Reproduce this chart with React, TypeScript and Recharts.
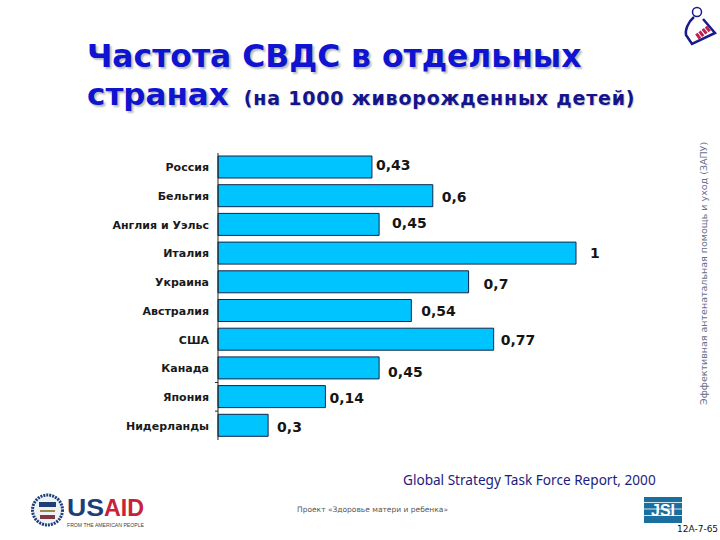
import { Bar, BarChart, Cell, LabelList, XAxis, YAxis } from "recharts";

const countries = [
	"Россия",
	"Бельгия",
	"Англия и Уэльс",
	"Италия",
	"Украина",
	"Австралия",
	"США",
	"Канада",
	"Япония",
	"Нидерланды",
];
// bar lengths as drawn: the last two are swapped against their printed labels in the source
const barValues = [0.43, 0.6, 0.45, 1, 0.7, 0.54, 0.77, 0.45, 0.3, 0.14];
const printedLabels = ["0,43", "0,6", "0,45", "1", "0,7", "0,54", "0,77", "0,45", "0,14", "0,3"];

// the labels were placed by hand in the source slide
const labelShiftX = [4, 9, 13, 14, 15, 10, 7, 9, 4, 9];
const labelShiftY = [-2, 1, -1, 0, 2, 0, 1, 4, 1, 2];
const tickedRows = [8, 9];

const data = countries.map((country, i) => ({
	country,
	value: barValues[i],
	label: printedLabels[i],
}));

const BLUE = "#0f14d0";

function CountryTick({ x, y, payload, index }: any) {
	return (
		<g>
			<text
				x={x - 1}
				y={y}
				dy={4}
				textAnchor="end"
				fontFamily="DejaVu Sans"
				fontWeight="bold"
				fontSize={11}
				fill="#1a1a1a"
			>
				{payload.value}
			</text>
			{tickedRows.includes(index) && (
				<line x1={x + 5} x2={x + 8} y1={y - 14.5} y2={y - 14.5} stroke="#222" />
			)}
		</g>
	);
}

function ValueLabel({ x, y, width, height, index, value }: any) {
	return (
		<text
			x={x + width + labelShiftX[index]}
			y={y + height / 2 + labelShiftY[index]}
			dy={5}
			fontFamily="DejaVu Sans"
			fontWeight="bold"
			fontSize={14}
			fill="#151515"
		>
			{value}
		</text>
	);
}

function MotherIcon() {
	return (
		<svg width={40} height={48} style={{ position: "absolute", left: 682, top: 2 }}>
			<circle cx={15} cy={10} r={4.5} fill="none" stroke="#1a1a8c" strokeWidth={1.5} />
			<path
				d="M12 15 C6 20 3 28 4 33 L10 42 L33 31 L21 17"
				fill="none"
				stroke="#1a1a8c"
				strokeWidth={2.5}
			/>
			<path d="M15 35 L27 26" stroke="#c02050" strokeWidth={6} strokeDasharray="3 1" />
		</svg>
	);
}

function UsaidLogo() {
	return (
		<svg width={120} height={42} style={{ position: "absolute", left: 28, top: 490 }}>
			<circle cx={19.5} cy={20} r={15} fill="#eef2f7" stroke="#1c3f78" strokeWidth={3} strokeDasharray="2 1" />
			<rect x={11} y={12} width={17} height={5} fill="#1c3f78" />
			<path d="M12 21 L27 21" stroke="#9a8a50" strokeWidth={2} />
			<rect x={12} y={25} width={15} height={4} fill="#7a3a40" />
			<text
				x={39}
				y={26}
				fontFamily="Liberation Sans"
				fontWeight="bold"
				fontSize={24}
				fill="#1c3f78"
				textLength={37}
				lengthAdjust="spacingAndGlyphs"
			>
				US
			</text>
			<text
				x={76}
				y={26}
				fontFamily="Liberation Sans"
				fontWeight="bold"
				fontSize={24}
				fill="#c8213a"
				textLength={40}
				lengthAdjust="spacingAndGlyphs"
			>
				AID
			</text>
			<text
				x={39}
				y={36.5}
				fontFamily="Liberation Sans"
				fontSize={5.5}
				fill="#444"
				textLength={77}
				lengthAdjust="spacingAndGlyphs"
			>
				FROM THE AMERICAN PEOPLE
			</text>
		</svg>
	);
}

function JsiLogo() {
	return (
		<svg width={40} height={28} style={{ position: "absolute", left: 644, top: 497 }}>
			<rect x={0} y={0} width={38} height={26} fill="#1a6f9e" />
			<path d="M0 5.5 H38 M0 12 H38 M0 18.5 H38" stroke="#cfe4ef" strokeWidth={1} />
			<text x={19} y={19} textAnchor="middle" fontFamily="Liberation Sans" fontWeight="bold" fontSize={16} fill="#fff">
				JSI
			</text>
		</svg>
	);
}

const abs = (left: number, top: number): React.CSSProperties => ({
	position: "absolute",
	left,
	top,
	whiteSpace: "nowrap",
	lineHeight: 1,
});

export default function App() {
	return (
		<div
			style={{
				position: "absolute",
				left: 0,
				top: 0,
				width: 720,
				height: 540,
				background: "#fff",
				overflow: "hidden",
				fontFamily: "DejaVu Sans",
			}}
		>
			<div
				style={{
					...abs(87, 41),
					fontWeight: "bold",
					fontSize: 31.4,
					color: BLUE,
					textShadow: "2px 2px 2px #bbb",
				}}
			>
				Частота СВДС в отдельных
			</div>
			<div
				style={{
					...abs(87, 79),
					fontWeight: "bold",
					fontSize: 31,
					color: BLUE,
					textShadow: "2px 2px 2px #bbb",
				}}
			>
				странах
				<span
					style={{
						fontSize: 19,
						letterSpacing: 0.8,
						marginLeft: 15,
						color: "#14148c",
						textShadow: "1px 1px 1px #ccc",
					}}
				>
					(на 1000 живорожденных детей)
				</span>
			</div>

			<div style={{ position: "absolute", left: 0, top: 0 }}>
				<BarChart
					width={720}
					height={540}
					data={data}
					layout="vertical"
					margin={{ top: 153, right: 144, bottom: 100, left: 0 }}
					barSize={22}
				>
					<XAxis type="number" domain={[0, 1]} hide />
					<YAxis
						type="category"
						dataKey="country"
						width={218}
						interval={0}
						tick={<CountryTick />}
						tickLine={false}
						axisLine={{ stroke: "#222", strokeWidth: 1 }}
					/>
					<Bar dataKey="value" isAnimationActive={false} stroke="#10254a" strokeWidth={1}>
						{data.map((d) => (
							<Cell key={d.country} fill="#00c4ff" />
						))}
						<LabelList dataKey="label" content={<ValueLabel />} />
					</Bar>
				</BarChart>
			</div>

			<div
				style={{
					position: "absolute",
					left: 699,
					top: 405,
					fontSize: 9.5,
					color: "#667088",
					whiteSpace: "nowrap",
					lineHeight: 1,
					transformOrigin: "0 0",
					transform: "rotate(-90deg)",
				}}
			>
				Эффективная антенатальная помощь и уход (ЗАПУ)
			</div>

			<div style={{ ...abs(403, 473), fontFamily: "Noto Sans", fontSize: 13.6, color: "#1c1c80" }}>
				Global Strategy Task Force Report, 2000
			</div>
			<div style={{ ...abs(297, 506), fontSize: 7.5, color: "#555" }}>Проект «Здоровье матери и ребенка»</div>
			<div style={{ ...abs(677, 525), fontSize: 9, color: "#111" }}>12A-7-65</div>

			<MotherIcon />
			<UsaidLogo />
			<JsiLogo />
		</div>
	);
}
